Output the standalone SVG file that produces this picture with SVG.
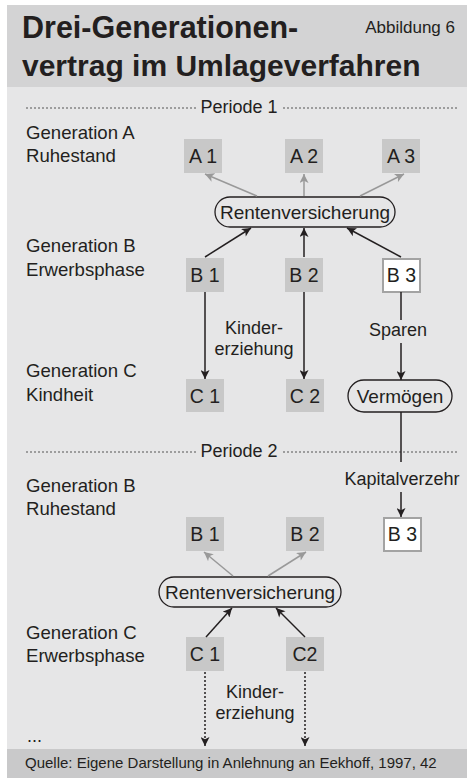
<svg xmlns="http://www.w3.org/2000/svg" width="470" height="778" viewBox="0 0 470 778">
<defs>
<style>
text{font-family:"Liberation Sans",Arial,sans-serif;fill:#231f20}
.lbl{font-size:18px}
.gl{font-size:18.6px}
.box{fill:#c8c8c8}
.bt{font-size:19.5px;text-anchor:middle}
.pill{fill:none;stroke:#231f20;stroke-width:1.3}
.g{stroke:#999;stroke-width:1.5;fill:none}
.k{stroke:#231f20;stroke-width:1.5;fill:none}
.dot{stroke:#555;stroke-width:1;stroke-dasharray:2 2;fill:none}
.kd{stroke:#231f20;stroke-width:1.5;stroke-dasharray:2 2;fill:none}
</style>
<marker id="ag" viewBox="0 0 10 10" refX="10" refY="5" markerWidth="10" markerHeight="9" markerUnits="userSpaceOnUse" orient="auto"><path d="M0,0L10,5L0,10L2.5,5z" fill="#999"/></marker>
<marker id="ak" viewBox="0 0 10 10" refX="10" refY="5" markerWidth="10" markerHeight="9" markerUnits="userSpaceOnUse" orient="auto"><path d="M0,0L10,5L0,10L2.5,5z" fill="#231f20"/></marker>
</defs>
<rect x="0" y="0" width="470" height="778" fill="#fff"/>
<rect x="7" y="5" width="460" height="82" fill="#d3d3d4"/>
<rect x="7" y="87" width="460" height="662" fill="#e6e6e7"/>
<rect x="7" y="749" width="460" height="29" fill="#c9c9ca"/>
<g id="title">
<text x="22" y="38" style="font-size:30.5px;font-weight:bold">Drei-Generationen-</text>
<text x="22" y="76" style="font-size:30px;font-weight:bold">vertrag im Umlageverfahren</text>
<text x="455" y="33" style="font-size:17px;text-anchor:end">Abbildung 6</text>
</g>
<g id="periode1">
<line class="dot" x1="26" y1="108" x2="196" y2="108"/>
<line class="dot" x1="283" y1="108" x2="457" y2="108"/>
<text x="239" y="113" class="lbl" text-anchor="middle">Periode 1</text>
</g>
<g id="periode2">
<line class="dot" x1="26" y1="452" x2="196" y2="452"/>
<line class="dot" x1="283" y1="452" x2="457" y2="452"/>
<text x="239" y="457" class="lbl" text-anchor="middle">Periode 2</text>
</g>
<g id="labels">
<text x="26" y="139" class="gl">Generation A</text>
<text x="26" y="162" class="gl">Ruhestand</text>
<text x="26" y="252" class="gl">Generation B</text>
<text x="26" y="276" class="gl">Erwerbsphase</text>
<text x="26" y="377" class="gl">Generation C</text>
<text x="26" y="401" class="gl">Kindheit</text>
<text x="26" y="492" class="gl">Generation B</text>
<text x="26" y="515" class="gl">Ruhestand</text>
<text x="26" y="639" class="gl">Generation C</text>
<text x="26" y="662" class="gl">Erwerbsphase</text>
<text x="27" y="742" class="lbl">...</text>
</g>
<g id="A1"><rect class="box" x="184" y="139" width="38" height="34"/><text class="bt" x="203" y="163">A 1</text></g>
<g id="A2"><rect class="box" x="285" y="139" width="38" height="34"/><text class="bt" x="304" y="163">A 2</text></g>
<g id="A3"><rect class="box" x="382" y="139" width="38" height="34"/><text class="bt" x="401" y="163">A 3</text></g>
<g id="RV1"><rect class="pill" x="215" y="197" width="180" height="30" rx="15"/><text class="bt" x="305" y="219" style="font-size:19px">Rentenversicherung</text></g>
<g id="B1"><rect class="box" x="186" y="258" width="38" height="34"/><text class="bt" x="205" y="282">B 1</text></g>
<g id="B2"><rect class="box" x="285" y="258" width="38" height="34"/><text class="bt" x="304" y="282">B 2</text></g>
<g id="B3"><rect x="383" y="259" width="37" height="33" fill="#fff" stroke="#a3a3a3" stroke-width="2"/><text class="bt" x="401.5" y="282">B 3</text></g>
<g id="C1"><rect class="box" x="186" y="379" width="38" height="33" /><text class="bt" x="205" y="403">C 1</text></g>
<g id="C2"><rect class="box" x="286" y="379" width="38" height="33"/><text class="bt" x="305" y="403">C 2</text></g>
<g id="Verm"><rect class="pill" x="348" y="380" width="104" height="32" rx="16"/><text class="bt" x="400" y="403" style="font-size:19px">Vermögen</text></g>
<g id="B1b"><rect class="box" x="186" y="517" width="38" height="34"/><text class="bt" x="205" y="541">B 1</text></g>
<g id="B2b"><rect class="box" x="286" y="517" width="38" height="34"/><text class="bt" x="305" y="541">B 2</text></g>
<g id="B3b"><rect x="384" y="518" width="37" height="33" fill="#fff" stroke="#a3a3a3" stroke-width="2"/><text class="bt" x="402.5" y="541">B 3</text></g>
<g id="RV2"><rect class="pill" x="159" y="577" width="182" height="30" rx="15"/><text class="bt" x="250" y="599" style="font-size:19px">Rentenversicherung</text></g>
<g id="C1b"><rect class="box" x="186" y="637" width="38" height="34"/><text class="bt" x="205" y="661">C 1</text></g>
<g id="C2b"><rect class="box" x="286" y="637" width="38" height="34"/><text class="bt" x="305" y="661">C2</text></g>
<g id="edgelabels">
<text class="lbl" x="254" y="334" text-anchor="middle">Kinder-</text>
<text class="lbl" x="254" y="355" text-anchor="middle">erziehung</text>
<text class="lbl" x="398" y="336" text-anchor="middle">Sparen</text>
<text class="lbl" x="402" y="485" text-anchor="middle">Kapitalverzehr</text>
<text class="lbl" x="255" y="698" text-anchor="middle">Kinder-</text>
<text class="lbl" x="255" y="719" text-anchor="middle">erziehung</text>
</g>
<g id="connectors">
<line class="g" x1="257" y1="196" x2="205" y2="174" marker-end="url(#ag)"/>
<line class="g" x1="304" y1="196" x2="304" y2="174" marker-end="url(#ag)"/>
<line class="g" x1="360" y1="196" x2="404" y2="174" marker-end="url(#ag)"/>
<line class="k" x1="205" y1="257" x2="251" y2="228" marker-end="url(#ak)"/>
<line class="k" x1="304" y1="257" x2="304" y2="228" marker-end="url(#ak)"/>
<line class="k" x1="401" y1="257" x2="347" y2="228" marker-end="url(#ak)"/>
<line class="k" x1="205" y1="292" x2="205" y2="379" marker-end="url(#ak)"/>
<line class="k" x1="304" y1="292" x2="304" y2="379" marker-end="url(#ak)"/>
<line class="k" x1="401" y1="292" x2="401" y2="320"/>
<line class="k" x1="401" y1="343" x2="401" y2="380" marker-end="url(#ak)"/>
<line class="k" x1="401" y1="412" x2="401" y2="462"/>
<line class="k" x1="401" y1="492" x2="401" y2="517" marker-end="url(#ak)"/>
<line class="g" x1="233" y1="576" x2="204" y2="552" marker-end="url(#ag)"/>
<line class="g" x1="268" y1="576" x2="306" y2="552" marker-end="url(#ag)"/>
<line class="k" x1="206" y1="637" x2="232" y2="608" marker-end="url(#ak)"/>
<line class="k" x1="305" y1="637" x2="276" y2="608" marker-end="url(#ak)"/>
<line class="kd" x1="205" y1="672" x2="205" y2="746" marker-end="url(#ak)"/>
<line class="kd" x1="305" y1="672" x2="305" y2="746" marker-end="url(#ak)"/>
</g>
<g id="footer"><text x="25" y="768" style="font-size:15px">Quelle: Eigene Darstellung in Anlehnung an Eekhoff, 1997, 42</text></g>
</svg>
